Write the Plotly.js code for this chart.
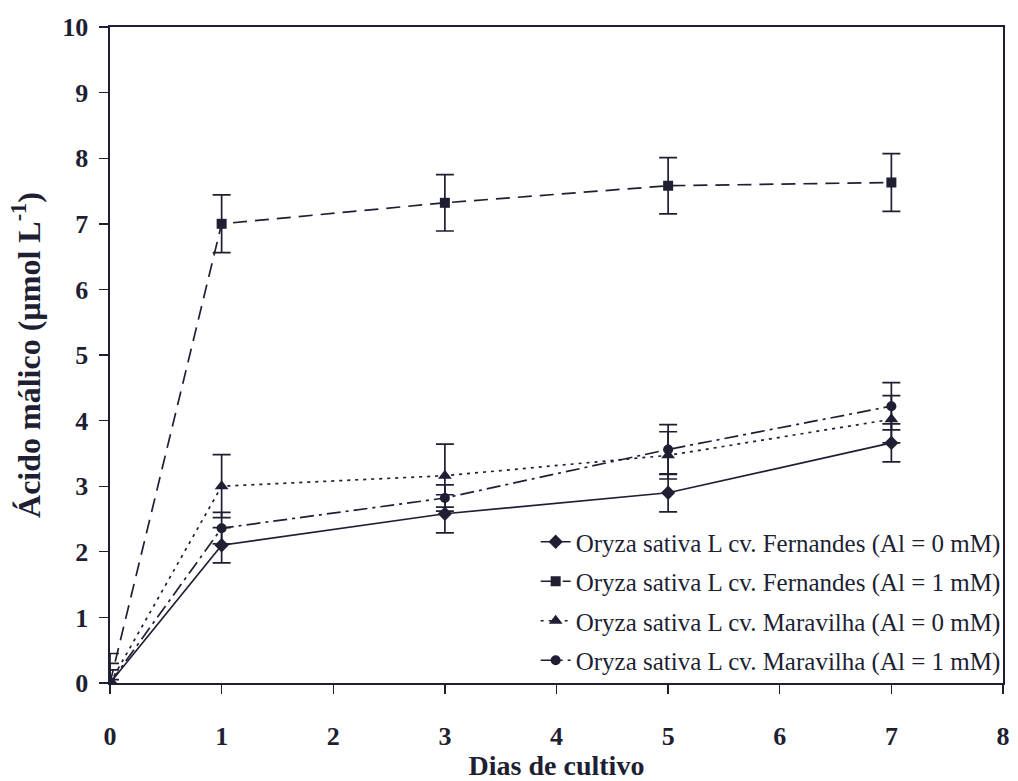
<!DOCTYPE html>
<html>
<head>
<meta charset="utf-8">
<script src="https://cdn.plot.ly/plotly-3.0.1.min.js"></script>
<style>html,body{margin:0;padding:0;background:#fff;}</style>
</head>
<body>
<div id="chart" style="width:1018px;height:781px;"></div>
<script>
// Days of culture
const days = [0, 1, 3, 5, 7];

// Series values (µmol L-1) and standard errors
const fern0 = [0, 2.10, 2.58, 2.90, 3.66];
const fern0Err = [0.05, 0.27, 0.29, 0.29, 0.29];
const fern1 = [0, 7.00, 7.32, 7.58, 7.63];
const fern1Err = [0.45, 0.44, 0.43, 0.43, 0.44];
const mara0 = [0, 3.00, 3.16, 3.47, 4.02];
const mara0Err = [0.30, 0.48, 0.48, 0.36, 0.36];
const mara1 = [0, 2.36, 2.82, 3.56, 4.22];
const mara1Err = [0.20, 0.24, 0.20, 0.38, 0.36];

const seriesNames = [
  "Oryza sativa L cv. Fernandes (Al = 0 mM)",
  "Oryza sativa L cv. Fernandes (Al = 1 mM)",
  "Oryza sativa L cv. Maravilha (Al = 0 mM)",
  "Oryza sativa L cv. Maravilha (Al = 1 mM)"
];

const xTicks = [0, 1, 2, 3, 4, 5, 6, 7, 8];
const yTicks = [0, 1, 2, 3, 4, 5, 6, 7, 8, 9, 10];

const ink = "#1e1f33";
const serif = "Liberation Serif, Times New Roman, serif";

function mk(y, err, name, dash, symbol, msize, grp) {
  return {
    x: days, y: y, name: name, type: "scatter", mode: "lines+markers",
    legendgroup: grp,
    line: {color: ink, width: 1.7, dash: dash},
    marker: {color: ink, symbol: symbol, size: msize},
    error_y: {type: "data", array: err, visible: true, color: ink, thickness: 1.7, width: 9}
  };
}

const traces = [
  mk(fern0, fern0Err, seriesNames[0], "solid", "diamond", 11, "a"),
  mk(fern1, fern1Err, seriesNames[1], "14px,8px", "square", 10, "b"),
  mk(mara0, mara0Err, seriesNames[2], "3px,5px", "triangle-up", 12, "c"),
  mk(mara1, mara1Err, seriesNames[3], "14px,5px,3px,5px", "circle", 10, "d")
];

const tickFont = {family: serif, size: 26, color: ink, weight: "bold"};

const layout = {
  width: 1018, height: 781,
  margin: {l: 110, r: 13, t: 27, b: 98},
  paper_bgcolor: "#fff", plot_bgcolor: "#fff",
  showlegend: true,
  legend: {
    x: 1.003, xanchor: "right", y: 0.0, yanchor: "bottom",
    bgcolor: "rgba(255,255,255,0)", borderwidth: 0,
    tracegroupgap: 4,
    font: {family: serif, size: 25, color: ink}
  },
  xaxis: {
    range: [0, 8], tickvals: xTicks, ticktext: xTicks.map(String),
    showgrid: false, zeroline: false,
    showline: true, linecolor: ink, linewidth: 1.6, mirror: true,
    ticks: "outside", ticklen: 9, tickwidth: 1.4, tickcolor: ink,
    ticklabelstandoff: 20,
    tickfont: tickFont,
    title: {text: "Dias de cultivo", font: {family: serif, size: 28, color: ink, weight: "bold"}, standoff: 0}
  },
  yaxis: {
    range: [0, 10], tickvals: yTicks, ticktext: yTicks.map(String),
    showgrid: false, zeroline: false,
    showline: true, linecolor: ink, linewidth: 1.6, mirror: true,
    ticks: "outside", ticklen: 9, tickwidth: 1.4, tickcolor: ink,
    ticklabelstandoff: 6,
    tickfont: tickFont,
    title: {text: "Ácido málico (µmol L<sup>-1</sup>)", font: {family: serif, size: 32, color: ink, weight: "bold"}, standoff: 12}
  }
};

Plotly.newPlot("chart", traces, layout, {displayModeBar: false, staticPlot: true});
</script>
</body>
</html>
